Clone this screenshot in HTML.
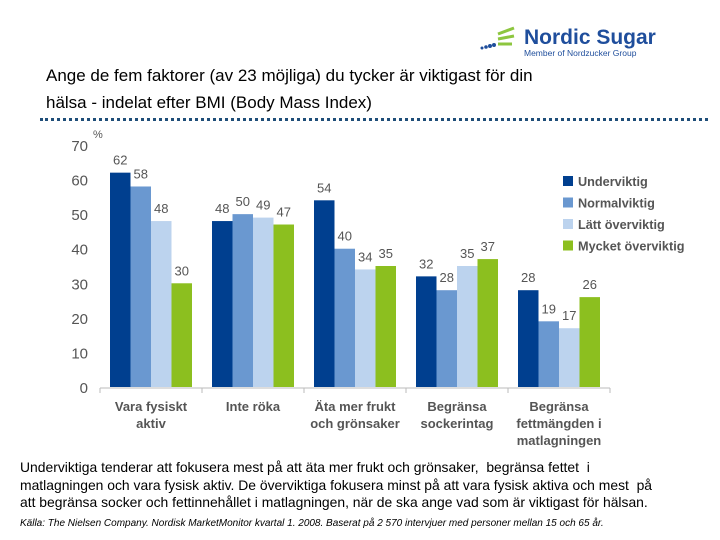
<!DOCTYPE html>
<html><head><meta charset="utf-8"><style>
body{margin:0;width:720px;height:540px;background:#fff;font-family:"Liberation Sans",sans-serif;overflow:hidden;position:relative}
.t{position:absolute;white-space:nowrap}
</style></head><body>
<div class="t" style="left:46px;top:62px;font-size:17px;line-height:27px;color:#000">Ange de fem faktorer (av 23 möjliga) du tycker är viktigast för din<br>hälsa - indelat efter BMI (Body Mass Index)</div>
<svg style="position:absolute;left:476px;top:20px" width="180" height="42">
<g stroke="#8dc63f" stroke-width="3" fill="none"><path d="M22 14 L38 8"/><path d="M22 19 L38 16"/><path d="M22 24 L36 24"/></g>
<g fill="#1f4e9c"><circle cx="6" cy="28" r="1.5"/><circle cx="10" cy="27" r="1.8"/><circle cx="14" cy="26" r="2"/><circle cx="18" cy="25" r="2"/></g>
<text x="48" y="24" font-size="21" font-weight="bold" fill="#1f4e9c" font-family="Liberation Sans">Nordic Sugar</text>
<text x="48" y="36" font-size="8.5" fill="#1f4e9c" font-family="Liberation Sans">Member of Nordzucker Group</text>
</svg>
<div style="position:absolute;left:40px;top:118px;width:668px;border-top:3px dotted #1f4e79"></div>
<svg id="chart" style="position:absolute;left:0;top:0" width="720" height="460"></svg>
<div class="t" style="left:20px;top:459px;font-size:13.9px;line-height:17.5px;color:#000">Underviktiga tenderar att fokusera mest på att äta mer frukt och grönsaker,&nbsp; begränsa fettet&nbsp; i<br>matlagningen och vara fysisk aktiv. De överviktiga fokusera minst på att vara fysisk aktiva och mest&nbsp; på<br>att begränsa socker och fettinnehållet i matlagningen, när de ska ange vad som är viktigast för hälsan.</div>
<div class="t" style="left:20px;top:518px;font-size:10px;font-style:italic;color:#000">Källa: The Nielsen Company. Nordisk MarketMonitor kvartal 1. 2008. Baserat på 2 570 intervjuer med personer mellan 15 och 65 år.</div>
<script>
const categories=[["Vara fysiskt","aktiv"],["Inte röka"],["Äta mer frukt","och grönsaker"],["Begränsa","sockerintag"],["Begränsa","fettmängden i","matlagningen"]];
const seriesNames=["Underviktig","Normalviktig","Lätt överviktig","Mycket överviktig"];
const underviktig=[62,48,54,32,28];
const normalviktig=[58,50,40,28,19];
const lattOverviktig=[48,49,34,35,17];
const mycketOverviktig=[30,47,35,37,26];
const yTicks=[0,10,20,30,40,50,60,70];
const colors=["#003f8f","#6a98d0","#bcd3ee","#8cbf1f"];
const series=[underviktig,normalviktig,lattOverviktig,mycketOverviktig];
const svg=document.getElementById('chart');const NS="http://www.w3.org/2000/svg";
const y0=387,ppu=242/70,gx0=100,gw=102,bw=20.5;
const y=v=>y0-v*ppu;
function mk(t,a,txt){const e=document.createElementNS(NS,t);for(const k in a)e.setAttribute(k,a[k]);if(txt!==undefined)e.textContent=txt;svg.appendChild(e);return e;}
yTicks.forEach(v=>{const e=mk('text',{x:88,y:y(v)+6,'font-size':15,fill:'#555','text-anchor':'end','font-family':'Liberation Sans'},v);

});
const pu=mk('text',{x:93,y:138,'font-size':11,fill:'#555','font-family':'Liberation Sans'},'%');


const ax=mk('line',{x1:gx0,x2:gx0+gw*categories.length,y1:y0+1,y2:y0+1,stroke:'#bbb'});


categories.forEach((c,i)=>{const gx=gx0+i*gw;
mk('line',{x1:gx,x2:gx,y1:y0+1,y2:y0+6,stroke:'#bbb'});
series.forEach((s,j)=>{const x=gx+10+j*bw;
const r=mk('rect',{x:x,y:y(s[i]),width:bw,height:s[i]*ppu,fill:colors[j]});


const l=mk('text',{x:x+bw/2,y:y(s[i])-8,'font-size':13,fill:'#555','text-anchor':'middle','font-family':'Liberation Sans'},s[i]);

});
c.forEach((ln,k)=>{const t=mk('text',{x:gx+gw/2,y:411+k*17,'font-size':13,'font-weight':'bold',fill:'#555','text-anchor':'middle','font-family':'Liberation Sans'},ln);

});});
mk('line',{x1:gx0+gw*5,x2:gx0+gw*5,y1:y0+1,y2:y0+6,stroke:'#bbb'});
seriesNames.forEach((n,j)=>{const ly=176+j*21.5;
const r=mk('rect',{x:563,y:ly,width:10,height:10,fill:colors[j]});


const t=mk('text',{x:578,y:ly+10,'font-size':12.7,'font-weight':'bold',fill:'#555','font-family':'Liberation Sans'},n);

});
</script>
</body></html>
